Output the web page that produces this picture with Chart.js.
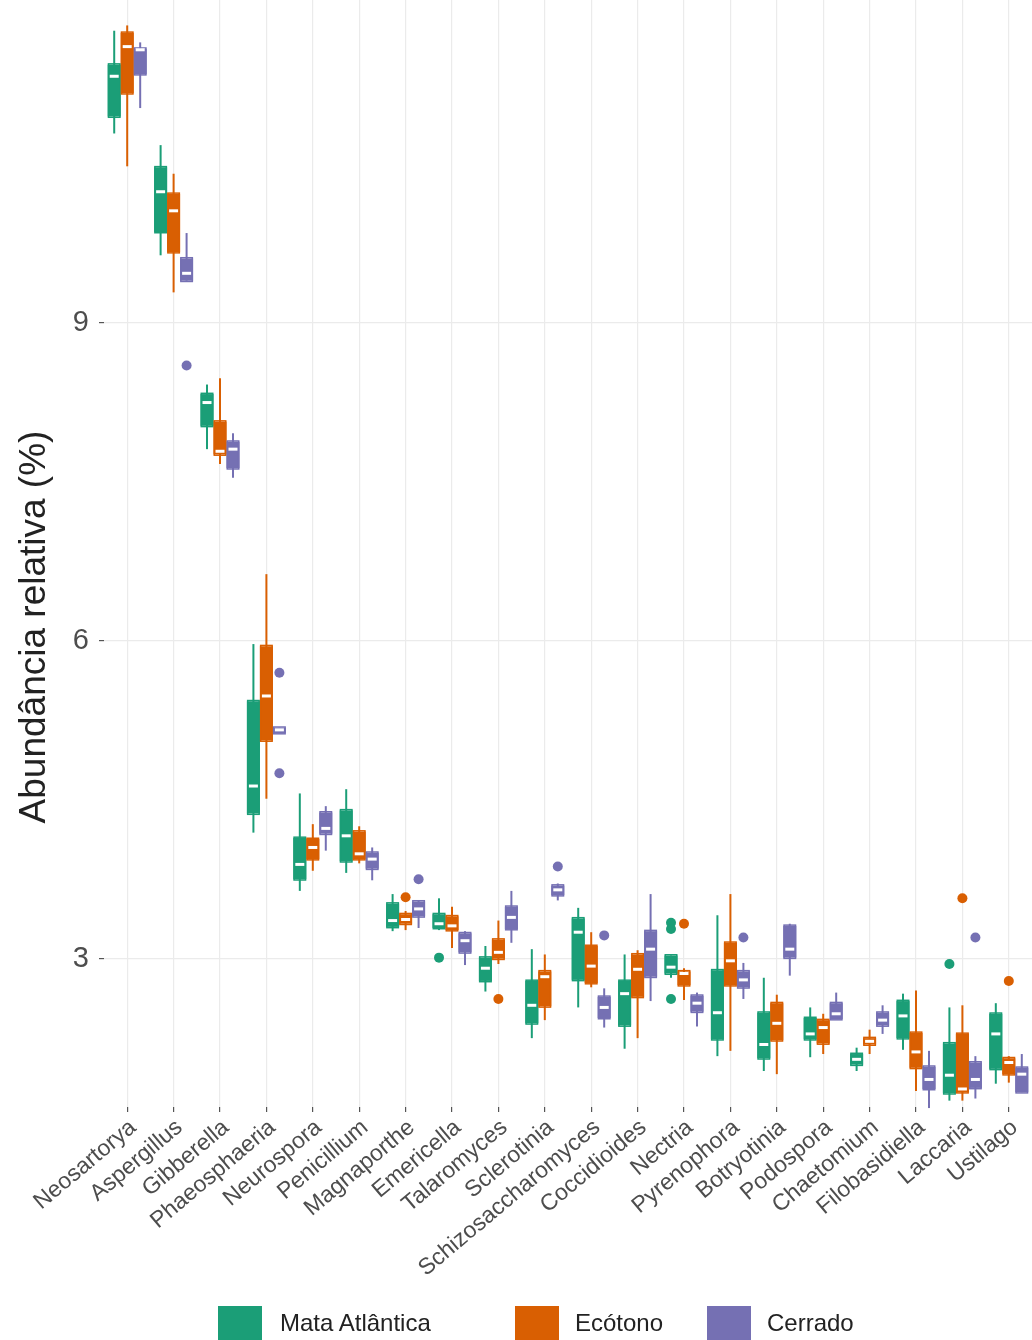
<!DOCTYPE html>
<html>
<head>
<meta charset="utf-8">
<script src="https://cdn.jsdelivr.net/npm/chart.js@4.4.1/dist/chart.umd.min.js"></script>
<style>
  html, body { margin: 0; padding: 0; background: #ffffff; }
  #wrap { position: relative; width: 1032px; height: 1340px; overflow: hidden; }
  #chart { position: absolute; left: 0; top: 0; }
  .key { position: absolute; top: 1306px; width: 44px; height: 44px; }
  .lbl { position: absolute; top: 1306px; height: 34px; line-height: 34px;
         font-family: "Liberation Sans", Arial, sans-serif; font-size: 24px; color: #222; white-space: nowrap; }
</style>
</head>
<body>
<div id="wrap">
  <canvas id="chart" width="1032" height="1340"></canvas>
  <div class="key" style="left:218px;background:#1b9e77"></div>
  <div class="lbl" style="left:280px">Mata Atlântica</div>
  <div class="key" style="left:515px;background:#d95f02"></div>
  <div class="lbl" style="left:575px">Ecótono</div>
  <div class="key" style="left:707px;background:#7570b3"></div>
  <div class="lbl" style="left:767px">Cerrado</div>
</div>
<script>
// Genera on the x axis
const genera = ["Neosartorya", "Aspergillus", "Gibberella", "Phaeosphaeria", "Neurospora",
  "Penicillium", "Magnaporthe", "Emericella", "Talaromyces", "Sclerotinia",
  "Schizosaccharomyces", "Coccidioides", "Nectria", "Pyrenophora", "Botryotinia",
  "Podospora", "Chaetomium", "Filobasidiella", "Laccaria", "Ustilago"];

const seriesNames = ["Mata Atlântica", "Ecótono", "Cerrado"];
const seriesColors = ["#1b9e77", "#d95f02", "#7570b3"];
const yTicks = [3, 6, 9];
const yTitle = "Abundância relativa (%)";

// Box statistics per genus: [lower whisker, Q1, median, Q3, upper whisker]
const mataAtlantica = [
  [10.79, 10.95, 11.33, 11.44, 11.76],
  [9.64, 9.86, 10.24, 10.47, 10.68],
  [7.81, 8.03, 8.25, 8.33, 8.42],
  [4.19, 4.37, 4.63, 5.43, 5.97],
  [3.64, 3.75, 3.89, 4.14, 4.56],
  [3.81, 3.92, 4.16, 4.40, 4.60],
  [3.26, 3.30, 3.36, 3.52, 3.61],
  [3.27, 3.29, 3.33, 3.42, 3.57],
  [2.69, 2.79, 2.91, 3.01, 3.12],
  [2.25, 2.39, 2.56, 2.79, 3.09],
  [2.54, 2.80, 3.25, 3.38, 3.48],
  [2.15, 2.37, 2.67, 2.79, 3.04],
  [2.82, 2.86, 2.92, 3.03, 3.03],
  [2.08, 2.24, 2.49, 2.89, 3.41],
  [1.94, 2.06, 2.19, 2.49, 2.82],
  [2.07, 2.24, 2.29, 2.44, 2.54],
  [1.94, 2.00, 2.05, 2.10, 2.16],
  [2.14, 2.25, 2.46, 2.60, 2.67],
  [1.66, 1.73, 1.90, 2.20, 2.54],
  [1.82, 1.96, 2.29, 2.48, 2.58]
];
const ecotono = [
  [10.48, 11.17, 11.61, 11.74, 11.81],
  [9.29, 9.67, 10.06, 10.22, 10.41],
  [7.67, 7.76, 7.79, 8.07, 8.48],
  [4.51, 5.06, 5.48, 5.95, 6.63],
  [3.83, 3.94, 4.05, 4.13, 4.27],
  [3.90, 3.94, 3.99, 4.20, 4.25],
  [3.27, 3.33, 3.37, 3.42, 3.45],
  [3.10, 3.27, 3.31, 3.40, 3.49],
  [2.95, 3.00, 3.06, 3.18, 3.36],
  [2.42, 2.55, 2.83, 2.88, 3.04],
  [2.73, 2.77, 2.93, 3.12, 3.25],
  [2.25, 2.64, 2.90, 3.04, 3.08],
  [2.61, 2.75, 2.86, 2.88, 2.91],
  [2.13, 2.75, 2.98, 3.15, 3.61],
  [1.91, 2.23, 2.39, 2.58, 2.66],
  [2.10, 2.20, 2.35, 2.42, 2.48],
  [2.10, 2.19, 2.22, 2.25, 2.33],
  [1.75, 1.97, 2.12, 2.30, 2.70],
  [1.66, 1.74, 1.77, 2.29, 2.56],
  [1.83, 1.91, 2.02, 2.06, 2.08]
];
const cerrado = [
  [11.03, 11.35, 11.58, 11.59, 11.65],
  [9.40, 9.40, 9.47, 9.61, 9.85],
  [7.54, 7.63, 7.81, 7.88, 7.96],
  [5.13, 5.13, 5.16, 5.18, 5.18],
  [4.02, 4.18, 4.23, 4.38, 4.44],
  [3.74, 3.85, 3.94, 4.00, 4.05],
  [3.29, 3.40, 3.47, 3.54, 3.55],
  [2.94, 3.06, 3.17, 3.24, 3.26],
  [3.15, 3.28, 3.39, 3.49, 3.64],
  [3.55, 3.60, 3.65, 3.69, 3.71],
  [2.35, 2.44, 2.54, 2.64, 2.72],
  [2.60, 2.83, 3.09, 3.26, 3.61],
  [2.36, 2.50, 2.58, 2.65, 2.68],
  [2.62, 2.73, 2.80, 2.88, 2.96],
  [2.84, 3.01, 3.09, 3.31, 3.33],
  [2.43, 2.43, 2.48, 2.58, 2.68],
  [2.29, 2.37, 2.42, 2.49, 2.56],
  [1.59, 1.77, 1.86, 1.98, 2.13],
  [1.68, 1.78, 1.86, 2.02, 2.08],
  [1.74, 1.74, 1.91, 1.97, 2.10]
];

// Outlying samples: [genus index, value]
const mataOutliers = [[7, 3.01], [12, 3.34], [12, 3.28], [12, 2.62], [18, 2.95]];
const ecotonoOutliers = [[6, 3.58], [8, 2.62], [12, 3.33], [18, 3.57], [19, 2.79]];
const cerradoOutliers = [[1, 8.60], [3, 5.70], [3, 4.75], [6, 3.75], [9, 3.87], [10, 3.22], [13, 3.20], [18, 3.20]];

const allStats = [mataAtlantica, ecotono, cerrado];
const allOutliers = [mataOutliers, ecotonoOutliers, cerradoOutliers];
const FONT = '"Liberation Sans", Arial, sans-serif';

// Whiskers behind the boxes; medians and outliers on top
const boxplotParts = {
  id: 'boxplotParts',
  beforeDatasetsDraw(chart) {
    const ctx = chart.ctx, y = chart.scales.y;
    ctx.save();
    allStats.forEach((stats, i) => {
      const meta = chart.getDatasetMeta(i);
      ctx.strokeStyle = seriesColors[i];
      ctx.lineWidth = 2;
      stats.forEach((s, j) => {
        const bar = meta.data[j];
        ctx.beginPath();
        ctx.moveTo(bar.x, y.getPixelForValue(s[0]));
        ctx.lineTo(bar.x, y.getPixelForValue(s[4]));
        ctx.stroke();
      });
    });
    ctx.restore();
  },
  afterDatasetsDraw(chart) {
    const ctx = chart.ctx, y = chart.scales.y;
    ctx.save();
    allStats.forEach((stats, i) => {
      const meta = chart.getDatasetMeta(i);
      // thin boxes still get their outline
      ctx.strokeStyle = seriesColors[i];
      ctx.lineWidth = 1.5;
      stats.forEach((s, j) => {
        const bar = meta.data[j];
        const half = bar.width / 2;
        const top = y.getPixelForValue(s[3]), bot = y.getPixelForValue(s[1]);
        ctx.strokeRect(bar.x - half + 0.75, top - 0.75, bar.width - 1.5, bot - top + 1.5);
      });
      ctx.strokeStyle = '#ffffff';
      ctx.lineWidth = 3;
      stats.forEach((s, j) => {
        const bar = meta.data[j];
        const half = bar.width / 2 - 2;
        const ym = y.getPixelForValue(s[2]);
        ctx.beginPath();
        ctx.moveTo(bar.x - half, ym);
        ctx.lineTo(bar.x + half, ym);
        ctx.stroke();
      });
      ctx.fillStyle = seriesColors[i];
      allOutliers[i].forEach(([j, v]) => {
        const bar = meta.data[j];
        ctx.beginPath();
        ctx.arc(bar.x, y.getPixelForValue(v), 5, 0, Math.PI * 2);
        ctx.fill();
      });
    });
    ctx.restore();
  }
};

// Vertical axis title, set a little below the panel centre
const axisTitle = {
  id: 'axisTitle',
  afterDraw(chart) {
    const ctx = chart.ctx;
    ctx.save();
    ctx.translate(35, 627);
    ctx.rotate(-Math.PI / 2);
    ctx.font = '37px ' + FONT;
    ctx.fillStyle = '#222222';
    ctx.textAlign = 'center';
    ctx.textBaseline = 'middle';
    ctx.fillText(yTitle, 0, 0);
    ctx.restore();
  }
};

new Chart(document.getElementById('chart'), {
  type: 'bar',
  data: {
    labels: genera,
    datasets: allStats.map((stats, i) => ({
      label: seriesNames[i],
      data: stats.map(s => [s[1], s[3]]),
      backgroundColor: seriesColors[i],
      borderWidth: 0,
      borderSkipped: false,
      categoryPercentage: 0.84,
      barPercentage: 1.0
    }))
  },
  options: {
    responsive: false,
    animation: false,
    layout: { padding: 0 },
    plugins: { legend: { display: false }, tooltip: { enabled: false } },
    scales: {
      x: {
        offset: true,
        grid: { offset: false, color: '#ebebeb', lineWidth: 1.2, drawTicks: true, tickLength: 5, tickColor: '#555555' },
        border: { display: false },
        ticks: {
          autoSkip: false, minRotation: 40, maxRotation: 40, padding: 2, labelOffset: 6,
          color: '#4d4d4d', font: { family: FONT, size: 23 }
        },
        afterFit(scale) {
          scale.height = 233;
          scale.paddingLeft = 0; scale.paddingRight = 0;
        }
      },
      y: {
        min: 1.6, max: 12.05,
        afterBuildTicks(scale) { scale.ticks = yTicks.map(v => ({ value: v })); },
        grid: { color: '#ebebeb', lineWidth: 1.2, drawTicks: true, tickLength: 5, tickColor: '#555555' },
        border: { display: false },
        ticks: { padding: 10, color: '#4d4d4d', font: { family: FONT, size: 29 } },
        afterFit(scale) {
          scale.width = 104;
          scale.paddingTop = 0; scale.paddingBottom = 0;
        }
      }
    }
  },
  plugins: [boxplotParts, axisTitle]
});
</script>
</body>
</html>
